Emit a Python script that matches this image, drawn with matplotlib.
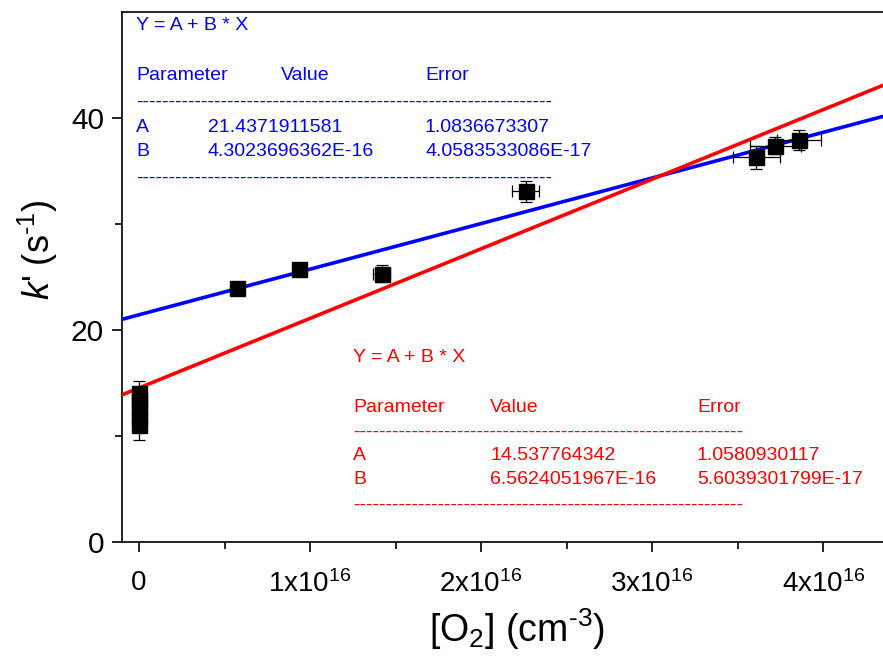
import matplotlib
matplotlib.use("Agg")
import matplotlib.pyplot as plt
import numpy as np

plt.rcParams['font.family'] = ['Liberation Sans', 'DejaVu Sans']
plt.rcParams['mathtext.fontset'] = 'custom'
plt.rcParams['mathtext.rm'] = 'Liberation Sans'
plt.rcParams['mathtext.it'] = 'Liberation Sans:italic'
plt.rcParams['mathtext.default'] = 'regular'

# ---- data ----
o2_conc = [0, 0, 0, 0, 0, 0.573e16, 0.936e16, 1.42e16, 2.26e16, 3.61e16, 3.72e16, 3.86e16]
k_prime = [11.0, 11.8, 12.6, 13.4, 14.1, 24.0, 25.8, 25.3, 33.1, 36.3, 37.4, 37.9]
k_err = [1.4, 1.0, 1.0, 1.0, 1.1, 0.5, 0.5, 0.8, 1.0, 1.1, 0.8, 0.95]
o2_err = [0, 0, 0, 0, 0, 0.02e16, 0.02e16, 0.05e16, 0.08e16, 0.14e16, 0.15e16, 0.13e16]

fit_blue_A, fit_blue_B = 21.4371911581, 4.3023696362E-16
fit_blue_Aerr, fit_blue_Berr = "1.0836673307", "4.0583533086E-17"
fit_red_A, fit_red_B = 14.537764342, 6.5624051967E-16
fit_red_Aerr, fit_red_Berr = "1.0580930117", "5.6039301799E-17"

xticks = [0, 1e16, 2e16, 3e16, 4e16]
xticklabels = ["0", r"1x10$^{16}$", r"2x10$^{16}$", r"3x10$^{16}$", r"4x10$^{16}$"]
yticks = [0, 20, 40]

W, H = 883, 658
fig = plt.figure(figsize=(W / 100, H / 100), dpi=100)
ax = fig.add_axes([122 / W, 1 - 542 / H, 1 - 122 / W, (542 - 12) / H])

xmin, xmax = -0.1e16, 4.35e16
ax.set_xlim(xmin, xmax)
ax.set_ylim(0, 50)

xs = np.array([xmin, xmax])
ax.plot(xs, fit_blue_A + fit_blue_B * xs, color='#0000ff', lw=2.6, zorder=3)
ax.plot(xs, fit_red_A + fit_red_B * xs, color='#ff0000', lw=2.6, zorder=3)

ax.errorbar(o2_conc, k_prime, yerr=k_err, xerr=o2_err, fmt='s', color='black',
            ms=10.8, ecolor='black', elinewidth=0.9, capsize=4, capthick=0.9, zorder=4)

ax.spines['right'].set_visible(False)
for s in ['left', 'bottom', 'top']:
    ax.spines[s].set_linewidth(1.2)

ax.set_xticks(xticks)
ax.set_xticklabels(xticklabels)
ax.set_xticks([0.5e16, 1.5e16, 2.5e16, 3.5e16], minor=True)
ax.set_yticks(yticks)
ax.set_yticks([10, 30], minor=True)
ax.tick_params(which='major', direction='out', length=7, width=1.2)
ax.tick_params(which='minor', direction='out', length=5, width=1.2)
ax.tick_params(axis='x', which='major', labelsize=20, pad=13)
ax.tick_params(axis='y', which='major', labelsize=21.5, pad=6)

ax.set_xlabel("[O$_2$] (cm$^{\u2010 3}$)", fontsize=27)
ax.xaxis.set_label_coords((517 - 122) / 761, (542 - 606) / 530)
ax.set_ylabel("$\\mathit{k}$' (s$^{\u2010 1}$)", fontsize=26)
ax.yaxis.set_label_coords((60 - 122) / 761, (542 - 250) / 530)

def px(x, y):
    return x / W, 1 - y / H

fs = 14
def table(color, x0, xvh, xeh, xv, xe, ys, A, B, Aerr, Berr, ndash):
    dash = '-' * ndash
    rows = [
        (ys[0], [(x0, "Y = A + B * X")]),
        (ys[1], [(x0, "Parameter"), (xvh, "Value"), (xeh, "Error")]),
        (ys[2], [(x0, dash)]),
        (ys[3], [(x0, "A"), (xv, A), (xe, Aerr)]),
        (ys[4], [(x0, "B"), (xv, B), (xe, Berr)]),
        (ys[5], [(x0, dash)]),
    ]
    for y, items in rows:
        for x, t in items:
            fig.text(*px(x, y), t, color=color, fontsize=fs, ha='left', va='center')

table('#0000ff', 136, 281, 425, 208, 425, [25, 75, 102, 127, 152, 178],
      "21.4371911581", "4.3023696362E-16", fit_blue_Aerr, fit_blue_Berr, 64)
table('#ff0000', 353, 490, 697, 490, 697, [358, 407, 432, 456, 480, 505],
      "14.537764342", "6.5624051967E-16", fit_red_Aerr, fit_red_Berr, 60)

fig.savefig("out.png", dpi=100)
